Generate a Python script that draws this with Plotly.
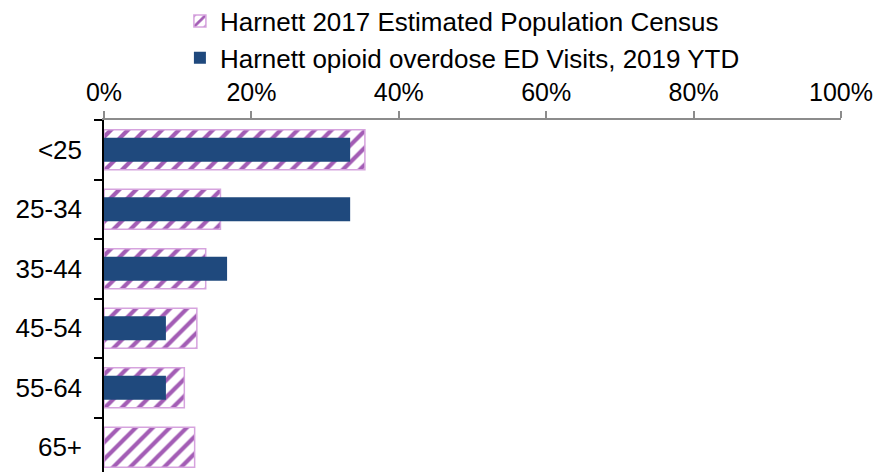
import plotly.graph_objects as go

categories = ["<25", "25-34", "35-44", "45-54", "55-64", "65+"]
census_pct = [35.4, 15.8, 13.8, 12.6, 10.9, 12.3]
ed_visits_pct = [33.4, 33.4, 16.7, 8.4, 8.4, 0.0]
census_name = "Harnett 2017 Estimated Population Census"
ed_name = "Harnett opioid overdose ED Visits, 2019 YTD"
x_ticks = [0, 20, 40, 60, 80, 100]
x_tick_labels = ["0%", "20%", "40%", "60%", "80%", "100%"]

fig = go.Figure()
fig.add_trace(go.Bar(
    y=categories, x=census_pct, orientation="h", name=census_name,
    width=0.67,
    marker=dict(color="white",
                line=dict(color="#d6a3de", width=1.5),
                pattern=dict(shape="/", fgcolor="#a35db5", bgcolor="white",
                             size=12, solidity=0.35, fillmode="replace")),
    hoverinfo="x+y",
))
fig.add_trace(go.Bar(
    y=categories, x=ed_visits_pct, orientation="h", name=ed_name,
    width=0.4,
    marker=dict(color="#1f497d", line=dict(width=0)),
    hoverinfo="x+y",
))

fig.update_layout(
    width=876, height=472,
    margin=dict(l=104, r=35, t=120, b=0, autoexpand=False),
    barmode="overlay",
    plot_bgcolor="white", paper_bgcolor="white",
    font=dict(family="Liberation Sans, Arial, sans-serif", size=26, color="black"),
    showlegend=True,
    legend=dict(x=0.103, xanchor="left", y=1.348, yanchor="top",
                orientation="v", traceorder="normal",
                font=dict(size=26), itemwidth=30, tracegroupgap=0,
                bgcolor="rgba(0,0,0,0)"),
    xaxis=dict(side="top", range=[0, 100], tickvals=x_ticks, ticktext=x_tick_labels,
               showgrid=False, zeroline=False, showline=True, linecolor="#8c8c8c",
               linewidth=1.5, ticks="outside", ticklen=7, tickcolor="#8c8c8c",
               tickwidth=1.5, fixedrange=True, automargin=False,
               tickfont=dict(size=25)),
    yaxis=dict(type="category", categoryorder="array", categoryarray=categories,
               range=[5.416, -0.5], showgrid=False, zeroline=False, showline=True,
               linecolor="black", linewidth=1.5, ticks="outside", ticklen=8,
               tickcolor="black", tickwidth=1.5, tickson="boundaries",
               ticklabelstandoff=15, fixedrange=True, automargin=False),
)

fig.write_html("out.html", config={"displayModeBar": False},
               post_script="document.body.style.margin='0';")
